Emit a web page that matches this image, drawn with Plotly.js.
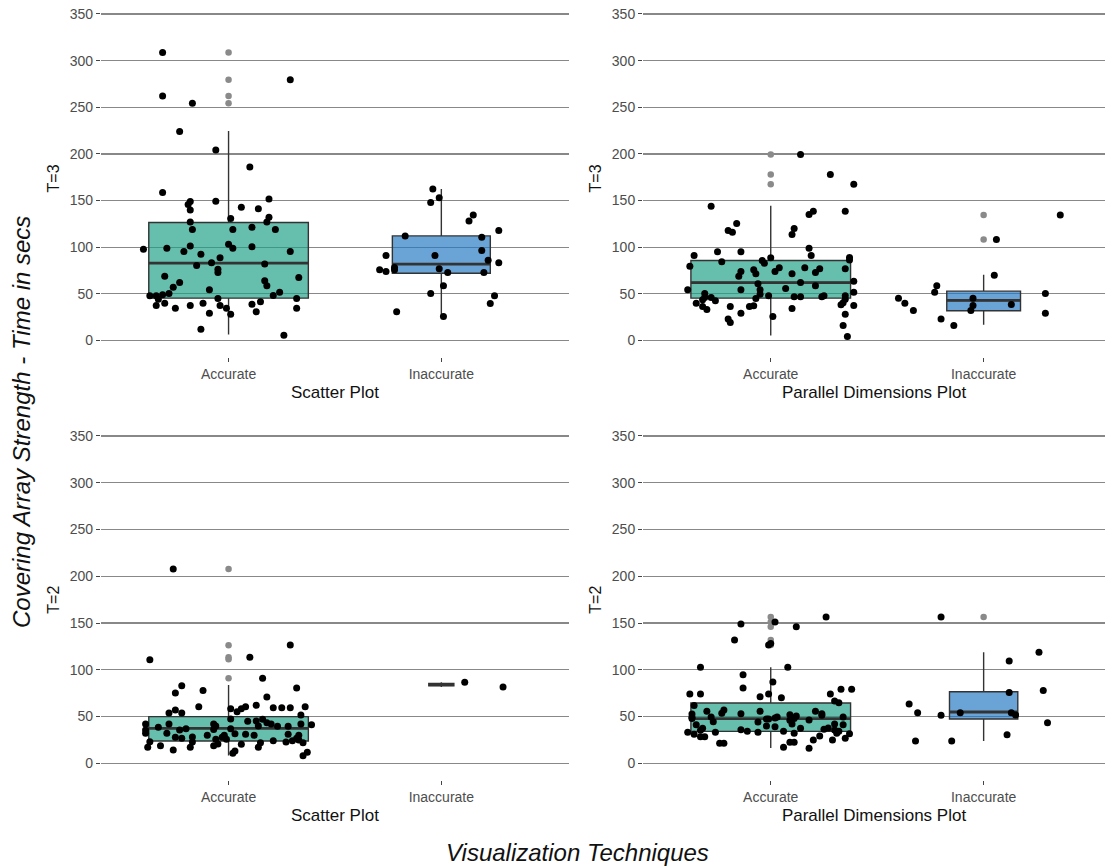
<!DOCTYPE html>
<html>
<head>
<meta charset="utf-8">
<script src="https://cdn.plot.ly/plotly-3.0.1.min.js"></script>
<style>html,body{margin:0;padding:0;background:#fff;}#chart{width:1105px;height:868px;}</style>
</head>
<body>
<div id="chart"></div>
<script>
// ---------- DATA ----------
const categories = ['Accurate', 'Inaccurate'];
const panelTitles = ['Scatter Plot', 'Parallel Dimensions Plot', 'Scatter Plot', 'Parallel Dimensions Plot'];
const rowTitles = ['T=3', 'T=3', 'T=2', 'T=2'];
const yTicks = [0, 50, 100, 150, 200, 250, 300, 350];

// Box statistics [Accurate, Inaccurate]
const sp3_q1 = [45.4, 72.1], sp3_med = [82.9, 81.8], sp3_q3 = [126.4, 112.1], sp3_lo = [6.5, 25.7], sp3_hi = [224.6, 162.5];
const pd3_q1 = [45.4, 31.8], pd3_med = [62.1, 42.9], pd3_q3 = [85.7, 52.9], pd3_lo = [5.4, 16.8], pd3_hi = [144.3, 70.4];
const sp2_q1 = [23.9, 82.9], sp2_med = [37.4, 84.1], sp2_q3 = [49.9, 85.4], sp2_lo = [8.5, 81.6], sp2_hi = [83.7, 86.6];
const pd2_q1 = [34.2, 47.4], pd2_med = [47.8, 54.9], pd2_q3 = [64.5, 76.6], pd2_lo = [16.5, 24.0], pd2_hi = [102.6, 118.7];

// Outliers drawn by the boxplot
const sp3_outAcc = [308.6, 279.6, 262.1, 254.3], sp3_outInacc = [];
const pd3_outAcc = [199.3, 177.9, 167.5], pd3_outInacc = [134.6, 108.2];
const sp2_outAcc = [207.8, 126.2, 113.3, 111.2, 90.9], sp2_outInacc = [];
const pd2_outAcc = [156.4, 151.1, 146.1, 131.9, 126.5], pd2_outInacc = [156.4];

// Jittered observations: horizontal jitter (category units) and time in secs
const sp3_accDx = [-0.31,-0.31,-0.17,0.29,-0.23,-0.06,0.10,-0.31,-0.06,-0.18,-0.19,-0.18,0.19,0.06,0.14,0.19,0.01,0.18,-0.18,-0.17,0.02,0.22,0.11,-0.40,-0.29,-0.21,-0.18,0.00,0.02,0.11,0.29,-0.13,-0.04,-0.08,-0.15,0.17,-0.05,-0.05,-0.30,0.17,0.33,0.18,-0.23,-0.26,-0.09,0.24,-0.28,-0.37,-0.34,-0.31,0.21,-0.33,-0.05,0.32,-0.34,-0.30,-0.25,-0.18,-0.12,-0.04,-0.01,0.11,0.15,0.32,-0.09,0.01,0.13,-0.13,0.26];
const sp3_accY = [308.6,262.1,254.3,279.6,223.9,204.3,186.1,158.6,149.3,149.0,145.7,140.0,151.8,142.9,141.1,132.1,130.7,127.1,127.1,118.9,118.9,118.9,121.4,97.9,98.9,95.4,101.4,103.2,98.9,100.4,95.4,92.5,88.6,83.2,80.4,82.1,76.4,72.9,68.9,63.9,67.5,58.6,62.1,57.1,54.3,51.8,50.4,48.0,48.0,49.0,48.2,44.3,45.0,45.0,37.5,40.0,34.6,37.5,40.0,37.5,34.6,38.9,41.4,34.6,29.3,28.2,30.7,12.1,5.7];
const sp3_inaccDx = [-0.04,-0.05,-0.01,0.15,0.13,-0.17,0.27,0.19,-0.26,-0.03,0.19,-0.29,-0.26,-0.22,-0.22,-0.01,0.03,0.22,0.27,0.20,0.01,-0.05,0.25,0.23,-0.21,0.01];
const sp3_inaccY = [162.5,147.9,152.9,134.6,128.2,112.1,117.9,110.7,91.1,91.1,96.4,75.7,73.9,78.2,75.7,76.8,72.9,86.1,83.2,72.9,58.6,50.4,47.9,39.6,30.7,25.7];

const pd3_accDx = [0.14,0.28,0.39,-0.28,0.35,0.20,0.18,-0.16,0.11,-0.20,-0.18,0.10,0.18,-0.25,-0.14,0.19,-0.36,0.37,0.37,0.00,-0.04,-0.03,-0.23,-0.38,0.16,0.04,0.02,0.35,-0.08,-0.07,0.23,-0.14,-0.15,0.10,0.21,0.14,-0.06,0.39,0.21,0.07,-0.39,-0.14,-0.05,0.39,-0.31,-0.05,-0.31,-0.32,-0.01,0.11,0.14,0.24,0.25,-0.28,-0.07,0.35,-0.26,0.35,0.34,0.33,-0.35,0.39,-0.32,-0.30,-0.19,-0.10,-0.08,0.10,-0.14,0.35,0.01,-0.20,-0.19,0.34,0.36];
const pd3_accY = [199.3,177.9,167.5,143.9,138.6,138.6,135.0,125.4,120.0,117.9,116.1,113.6,98.9,95.0,95.0,91.1,91.1,88.9,86.4,88.6,85.7,82.9,84.3,79.6,77.9,77.9,73.9,76.8,75.7,71.4,76.8,73.9,68.9,71.4,72.9,62.1,60.7,63.6,58.6,55.7,54.3,54.3,54.3,51.8,50.4,49.6,46.0,43.6,47.9,46.8,46.8,46.8,47.9,46.0,45.0,47.9,42.5,44.3,40.4,38.2,40.0,37.5,36.4,33.2,36.4,36.4,37.1,34.3,29.3,28.2,25.7,22.9,19.3,16.1,4.3];
const pd3_inaccDx = [0.36,0.06,0.05,-0.22,-0.23,0.29,-0.40,-0.37,-0.33,-0.05,-0.05,-0.06,0.13,-0.20,0.29,-0.14];
const pd3_inaccY = [134.6,108.2,70.0,58.6,51.8,50.4,45.4,40.0,32.1,45.4,37.5,32.1,38.6,22.9,29.3,16.1];

const sp2_accDx = [-0.26,0.29,-0.37,0.10,0.16,-0.22,-0.25,0.32,-0.12,0.18,-0.14,0.13,0.08,0.06,0.04,0.01,0.21,0.25,0.29,0.36,-0.25,-0.28,-0.22,0.34,0.01,-0.39,-0.28,-0.07,-0.06,0.09,0.13,0.16,0.18,0.20,0.14,0.23,0.28,0.34,0.39,-0.33,-0.20,-0.23,-0.39,-0.39,-0.29,-0.10,-0.07,0.01,-0.02,0.08,0.12,0.33,0.28,-0.25,-0.22,-0.17,-0.17,-0.06,-0.03,-0.01,0.03,0.32,0.33,0.30,0.27,0.35,0.21,-0.37,-0.38,-0.32,-0.18,-0.07,-0.05,0.15,0.14,0.06,-0.26,0.03,0.02,0.37,0.35];
const sp2_accY = [207.8,126.5,110.8,113.3,90.9,83.0,75.2,80.5,78.0,70.9,60.6,62.0,60.6,58.4,55.2,58.4,59.5,59.5,59.5,60.6,57.0,53.8,53.8,51.7,47.4,42.0,42.0,42.0,40.0,44.9,45.3,47.0,43.5,42.0,40.0,39.6,39.6,42.0,41.3,38.5,37.1,35.6,35.6,32.1,32.1,30.0,36.3,37.1,30.0,31.0,30.0,30.0,31.0,27.8,26.7,28.2,22.8,25.7,27.8,25.7,31.7,26.7,24.9,24.2,22.8,22.1,24.2,23.2,17.1,18.9,17.1,18.9,20.7,22.1,17.1,20.3,14.3,13.2,10.7,11.8,8.2];
const sp2_inaccDx = [0.11, 0.29];
const sp2_inaccY = [86.6, 81.6];

const pd2_accDx = [0.26,-0.14,0.02,0.12,-0.17,-0.01,0.00,-0.33,0.08,-0.13,0.01,-0.13,0.33,0.38,-0.38,-0.33,0.28,-0.01,-0.05,0.05,0.30,0.32,-0.36,-0.37,-0.37,-0.30,-0.22,-0.23,-0.14,-0.05,0.21,0.24,0.24,0.09,0.12,0.11,0.09,0.10,0.34,-0.02,-0.01,0.02,0.03,-0.28,-0.27,-0.37,0.18,-0.06,0.14,-0.35,-0.02,0.02,0.30,0.34,-0.32,-0.33,-0.14,-0.11,0.25,0.27,0.30,0.32,-0.26,-0.06,0.06,0.11,0.31,0.37,-0.39,-0.36,-0.33,-0.31,0.23,0.11,0.09,-0.24,-0.22,0.29,0.35,0.20,0.06,0.18];
const pd2_accY = [156.4,149.0,151.1,146.1,131.9,126.5,128.0,102.6,102.6,94.8,87.0,80.5,79.1,79.1,74.1,74.1,74.1,74.1,71.3,70.2,66.6,64.9,61.7,52.7,49.2,55.6,57.0,53.5,53.1,55.6,55.6,53.1,51.3,52.0,50.6,47.8,46.0,42.0,49.5,47.5,47.5,48.5,49.5,49.5,44.5,47.8,46.3,44.2,37.4,41.3,39.9,39.2,42.0,41.3,37.4,35.3,36.0,34.2,36.4,37.8,35.6,34.2,33.1,33.1,34.2,32.1,32.1,31.7,33.1,31.0,28.5,28.5,29.2,22.5,22.5,21.4,21.4,24.9,26.7,24.9,17.1,16.0];
const pd2_inaccDx = [-0.20,0.26,0.12,0.28,0.12,-0.35,-0.31,-0.20,-0.11,0.13,0.15,0.30,-0.32,-0.15,0.11];
const pd2_inaccY = [156.4,118.7,109.4,78.0,75.6,63.4,54.2,51.3,54.2,54.2,51.7,43.5,23.9,23.9,30.6];

// ---------- BUILD ----------
const panels = [
  {q1: sp3_q1, med: sp3_med, q3: sp3_q3, lo: sp3_lo, hi: sp3_hi, out: [sp3_outAcc, sp3_outInacc], dx: [sp3_accDx, sp3_inaccDx], y: [sp3_accY, sp3_inaccY]},
  {q1: pd3_q1, med: pd3_med, q3: pd3_q3, lo: pd3_lo, hi: pd3_hi, out: [pd3_outAcc, pd3_outInacc], dx: [pd3_accDx, pd3_inaccDx], y: [pd3_accY, pd3_inaccY]},
  {q1: sp2_q1, med: sp2_med, q3: sp2_q3, lo: sp2_lo, hi: sp2_hi, out: [sp2_outAcc, sp2_outInacc], dx: [sp2_accDx, sp2_inaccDx], y: [sp2_accY, sp2_inaccY]},
  {q1: pd2_q1, med: pd2_med, q3: pd2_q3, lo: pd2_lo, hi: pd2_hi, out: [pd2_outAcc, pd2_outInacc], dx: [pd2_accDx, pd2_inaccDx], y: [pd2_accY, pd2_inaccY]}
];

const fills = ['rgba(27,158,133,0.67)', 'rgba(33,120,195,0.67)'];
const lineCol = '#333333';
const traces = [];

panels.forEach((p, pi) => {
  const xa = pi === 0 ? 'x' : 'x' + (pi + 1);
  const ya = pi === 0 ? 'y' : 'y' + (pi + 1);
  const counts = p.y.map(a => a.length);
  const nmax = Math.max(...counts);
  categories.forEach((c, ci) => {
    const pos = ci + 1;
    const w = 0.75 * Math.sqrt(counts[ci] / nmax);
    traces.push({
      type: 'box', xaxis: xa, yaxis: ya, x: [pos],
      q1: [p.q1[ci]], median: [p.med[ci]], q3: [p.q3[ci]],
      lowerfence: [p.lo[ci]], upperfence: [p.hi[ci]],
      width: w, whiskerwidth: 0, boxpoints: false,
      fillcolor: fills[ci], line: {color: lineCol, width: 1.4},
      hoverinfo: 'skip', showlegend: false
    });
    // thicker median bar (ggplot style)
    traces.push({
      type: 'scatter', mode: 'lines', xaxis: xa, yaxis: ya,
      x: [pos - w / 2, pos + w / 2], y: [p.med[ci], p.med[ci]],
      line: {color: lineCol, width: 2.8}, hoverinfo: 'skip', showlegend: false
    });
    // outliers
    if (p.out[ci].length) {
      traces.push({
        type: 'scatter', mode: 'markers', xaxis: xa, yaxis: ya,
        x: p.out[ci].map(() => pos), y: p.out[ci],
        marker: {color: '#8a8a8a', size: 6.5}, hoverinfo: 'skip', showlegend: false
      });
    }
  });
  categories.forEach((c, ci) => {
    const pos = ci + 1;
    traces.push({
      type: 'scatter', mode: 'markers', xaxis: xa, yaxis: ya,
      x: p.dx[ci].map(d => pos + d), y: p.y[ci],
      marker: {color: '#000000', size: 7}, hoverinfo: 'skip', showlegend: false
    });
  });
});

const FONT = 'Liberation Sans, Arial, sans-serif';
function xAxis(domain, range, title, anchor) {
  return {
    domain: domain, range: range, type: 'linear', anchor: anchor,
    tickmode: 'array', tickvals: [1, 2], ticktext: categories,
    showgrid: true, gridcolor: '#ffffff', gridwidth: 1, zeroline: false, showline: false,
    ticks: 'outside', ticklen: 4, tickwidth: 1, tickcolor: '#444',
    tickfont: {family: FONT, size: 14, color: '#4d4d4d'},
    title: {text: title, font: {family: FONT, size: 17, color: '#111'}, standoff: 5},
    automargin: false, fixedrange: true
  };
}
function yAxis(domain, range, title, anchor) {
  return {
    domain: domain, range: range, anchor: anchor,
    tickmode: 'array', tickvals: yTicks,
    showgrid: true, gridcolor: '#888888', gridwidth: 1.3, zeroline: false, showline: false,
    ticks: 'outside', ticklen: 4, tickwidth: 1, tickcolor: '#444',
    tickfont: {family: FONT, size: 14, color: '#4d4d4d'},
    title: {text: title, font: {family: FONT, size: 16, color: '#111'}, standoff: 6},
    automargin: false, fixedrange: true
  };
}

const xdL = [100.9 / 1105, 569 / 1105], xdR = [643 / 1105, 1];
const rL = [0.4, 2.6], rR = [0.4, 0.4 + 462 / 212.9];
const ydT = [1 - 356.8 / 868, 1], ydB = [1 - 779.7 / 868, 1 - 419.6 / 868];
const rT = [-17.5, 365], rB = [-17.5, 367.5];

const layout = {
  width: 1105, height: 868,
  margin: {l: 0, r: 0, t: 0, b: 0, pad: 0},
  paper_bgcolor: '#ffffff', plot_bgcolor: 'rgba(0,0,0,0)',
  boxmode: 'overlay', showlegend: false,
  font: {family: FONT},
  xaxis: xAxis(xdL, rL, panelTitles[0], 'y'),
  yaxis: yAxis(ydT, rT, rowTitles[0], 'x'),
  xaxis2: xAxis(xdR, rR, panelTitles[1], 'y2'),
  yaxis2: yAxis(ydT, rT, rowTitles[1], 'x2'),
  xaxis3: xAxis(xdL, rL, panelTitles[2], 'y3'),
  yaxis3: yAxis(ydB, rB, rowTitles[2], 'x3'),
  xaxis4: xAxis(xdR, rR, panelTitles[3], 'y4'),
  yaxis4: yAxis(ydB, rB, rowTitles[3], 'x4'),
  annotations: [
    {text: '<i>Covering Array Strength - Time in secs</i>', xref: 'paper', yref: 'paper',
     x: 22 / 1105, y: 1 - 422 / 868, xanchor: 'center', yanchor: 'middle', textangle: -90,
     showarrow: false, font: {family: FONT, size: 24, color: '#111'}},
    {text: '<i>Visualization Techniques</i>', xref: 'paper', yref: 'paper',
     x: 577 / 1105, y: 1 - 852 / 868, xanchor: 'center', yanchor: 'middle',
     showarrow: false, font: {family: FONT, size: 24, color: '#111'}}
  ]
};

Plotly.newPlot('chart', traces, layout, {staticPlot: true, displayModeBar: false});
</script>
</body>
</html>
